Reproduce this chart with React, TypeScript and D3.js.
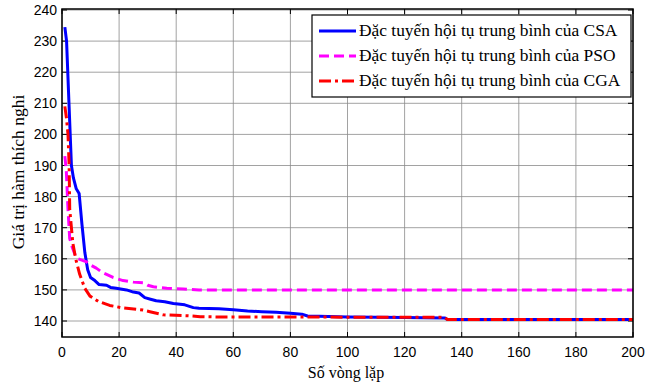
import React from "react";
import * as d3 from "d3";

const xTicks = [0, 20, 40, 60, 80, 100, 120, 140, 160, 180, 200];
const yTicks = [140, 150, 160, 170, 180, 190, 200, 210, 220, 230, 240];

const seriesNames = [
  "Đặc tuyến hội tụ trung bình của CSA",
  "Đặc tuyến hội tụ trung bình của PSO",
  "Đặc tuyến hội tụ trung bình của CGA",
];

const csaIter = [1, 1.6, 2.4, 3.3, 4, 5, 6, 7, 8, 9, 10, 11.5, 13, 15.6, 17, 19, 22.6, 25, 27, 29, 31, 33, 36, 39, 43, 46, 48, 55, 60, 65, 70, 75, 80, 84, 86, 90, 100, 110, 120, 134, 135, 200];
const csaVal = [234.5, 230, 211, 190, 186, 182.5, 181, 171, 162, 156.5, 154, 153, 151.7, 151.5, 150.8, 150.5, 150, 149.3, 149, 147.5, 147, 146.5, 146.2, 145.6, 145.2, 144.3, 144.1, 143.9, 143.6, 143.2, 143, 142.8, 142.5, 142.2, 141.6, 141.5, 141.3, 141.2, 141.1, 141, 140.5, 140.5];

const psoIter = [1, 1.5, 2.1, 2.7, 3.5, 4.5, 5.6, 8.6, 10, 12, 14.3, 17.9, 21.4, 25, 28.5, 30, 32, 36.7, 42.5, 48, 200];
const psoVal = [193, 188.5, 176, 166.5, 164, 161.5, 160, 159, 158, 157, 155.5, 154, 153, 152.5, 152.3, 151.5, 151, 150.5, 150.3, 150, 150];

const cgaIter = [1, 1.6, 2.1, 2.5, 2.7, 3.8, 4.8, 6.2, 8, 9.8, 12.7, 16.7, 21.4, 28.4, 30.8, 35.4, 43.7, 48.4, 54, 134, 135, 200];
const cgaVal = [209, 205, 200, 190, 176, 165, 160, 155, 150.5, 148, 146.3, 145, 144.2, 143.5, 143, 142, 141.7, 141.4, 141.3, 141.2, 140.5, 140.5];

const colors = ["#0000ff", "#ff00ff", "#ff0000"];
const dashes = ["none", "10,5", "12,4,3,4"];

export default function App() {
  const W = 654, H = 385;
  const L = 62, R = 633, T = 9, B = 337;
  const x = d3.scaleLinear().domain([0, 200]).range([L, R]);
  const yS = d3.scaleLinear().domain([140, 240]).range([321, 10]);
  const line = d3.line<[number, number]>().x(d => x(d[0])).y(d => yS(d[1]));
  const data: [number, number][][] = [
    csaIter.map((v, i) => [v, csaVal[i]]),
    psoIter.map((v, i) => [v, psoVal[i]]),
    cgaIter.map((v, i) => [v, cgaVal[i]]),
  ];
  const legY = [31, 56, 81];
  const serif = "Liberation Serif, Times New Roman, serif";
  const sans = "Liberation Sans, Arial, sans-serif";
  return (
    <svg width={W} height={H} style={{ position: "absolute", left: 0, top: 0, background: "#fff" }}>
      <rect x={0} y={0} width={W} height={H} fill="#fff" />
      <defs>
        <clipPath id="pa"><rect x={L} y={T} width={R - L} height={B - T} /></clipPath>
      </defs>
      {xTicks.map(t => (
        <line key={"gx" + t} x1={x(t)} x2={x(t)} y1={T} y2={B} stroke="#8a8a8a" strokeWidth={0.8} />
      ))}
      {yTicks.map(t => (
        <line key={"gy" + t} x1={L} x2={R} y1={yS(t)} y2={yS(t)} stroke="#8a8a8a" strokeWidth={0.8} />
      ))}
      {xTicks.map(t => (
        <g key={"tx" + t}>
          <line x1={x(t)} x2={x(t)} y1={B} y2={B - 5} stroke="#000" />
          <line x1={x(t)} x2={x(t)} y1={T} y2={T + 5} stroke="#000" />
          <text x={x(t)} y={357} textAnchor="middle" fontFamily={sans} fontSize={14}>{t}</text>
        </g>
      ))}
      {yTicks.map(t => (
        <g key={"ty" + t}>
          <line x1={L} x2={L + 5} y1={yS(t)} y2={yS(t)} stroke="#000" />
          <line x1={R} x2={R - 5} y1={yS(t)} y2={yS(t)} stroke="#000" />
          <text x={57} y={yS(t) + 5} textAnchor="end" fontFamily={sans} fontSize={14}>{t}</text>
        </g>
      ))}
      <g clipPath="url(#pa)">
        {data.map((d, i) => (
          <path key={i} d={line(d) || ""} fill="none" stroke={colors[i]} strokeWidth={3}
            strokeDasharray={dashes[i]} strokeLinejoin="round" />
        ))}
      </g>
      <rect x={L} y={T} width={R - L} height={B - T} fill="none" stroke="#000" strokeWidth={1.5} />
      <rect x={312} y={15} width={319} height={82} fill="#fff" stroke="#000" strokeWidth={1.2} />
      {seriesNames.map((n, i) => (
        <g key={n}>
          <line x1={319} x2={356} y1={legY[i]} y2={legY[i]} stroke={colors[i]} strokeWidth={3} strokeDasharray={dashes[i]} />
          <text x={359} y={legY[i] + 5} fontFamily={serif} fontSize={17.4}>{n}</text>
        </g>
      ))}
      <text x={346} y={378} textAnchor="middle" fontFamily={serif} fontSize={16}>Số vòng lặp</text>
      <text transform={`translate(24,172) rotate(-90)`} textAnchor="middle" fontFamily={serif} fontSize={17.5}>Giá trị hàm thích nghi</text>
    </svg>
  );
}
